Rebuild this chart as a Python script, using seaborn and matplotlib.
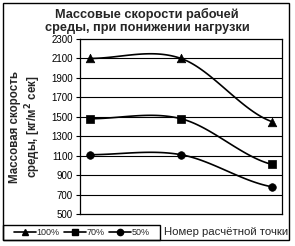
import numpy as np
import pandas as pd
import seaborn as sns
import matplotlib
matplotlib.use("Agg")
import matplotlib.pyplot as plt
from matplotlib.patches import Rectangle
from matplotlib.lines import Line2D

# ---- data ----
points = [1, 2, 3]
series_names = ["100%", "70%", "50%"]
load_100 = [2100, 2100, 1450]
load_70 = [1480, 1480, 1010]
load_50 = [1110, 1110, 780]
markers = ["^", "s", "o"]
yticks = list(range(500, 2301, 200))

title = "Массовые скорости рабочей\nсреды, при понижении нагрузки"
ylabel = "Массовая скорость\nсреды, [кг/м$^2$ сек]"
xlabel = "Номер расчётной точки"

sns.set_theme(style="white")
plt.rcParams["font.family"] = ["Liberation Sans", "DejaVu Sans"]
plt.rcParams["mathtext.default"] = "bf"

W, H = 295, 246
fig = plt.figure(figsize=(W / 100, H / 100), dpi=100)
fig.patch.set_facecolor("white")

def px(x0, y0, x1, y1):
    return [x0 / W, 1 - y1 / H, (x1 - x0) / W, (y1 - y0) / H]

ax = fig.add_axes(px(80, 39, 282, 214))


def smooth(xs, ys, n=40):
    # Catmull-Rom style smoothing between given data points (like Excel smoothed lines)
    xs = np.asarray(xs, float)
    ys = np.asarray(ys, float)
    ext_y = np.concatenate([[ys[0]], ys, [ys[-1]]])
    ox, oy = [], []
    for i in range(len(xs) - 1):
        p0, p1, p2, p3 = ext_y[i], ext_y[i + 1], ext_y[i + 2], ext_y[i + 3]
        m1 = (p2 - p0) / 2
        m2 = (p3 - p1) / 2
        t = np.linspace(0, 1, n, endpoint=(i == len(xs) - 2))
        h00 = 2 * t**3 - 3 * t**2 + 1
        h10 = t**3 - 2 * t**2 + t
        h01 = -2 * t**3 + 3 * t**2
        h11 = t**3 - t**2
        oy.append(h00 * p1 + h10 * m1 + h01 * p2 + h11 * m2)
        ox.append(xs[i] + t * (xs[i + 1] - xs[i]))
    return np.concatenate(ox), np.concatenate(oy)


all_series = [load_100, load_70, load_50]
handles = []
for name, vals, mk in zip(series_names, all_series, markers):
    sx, sy = smooth(points, vals)
    df = pd.DataFrame({"x": sx, "y": sy})
    sns.lineplot(data=df, x="x", y="y", ax=ax, color="black", lw=1.2, sort=False)
    dfp = pd.DataFrame({"x": points, "y": vals})
    sns.scatterplot(data=dfp, x="x", y="y", ax=ax, marker=mk, color="black",
                    s=38 if mk != "o" else 30, edgecolor="black", linewidth=0.5, zorder=5)
    handles.append(Line2D([], [], color="black", lw=1.2, marker=mk, markersize=4.5))

ax.set_xlim(0.89, 3.11)
ax.set_ylim(500, 2300)
ax.set_yticks(yticks)
ax.set_yticklabels([str(v) for v in yticks], fontsize=7, color="black")
ax.set_xticks([])
ax.set_xlabel("")
ax.set_ylabel("")
ax.grid(False)
for v in yticks[1:-1]:
    ax.axhline(v, color="black", lw=0.8, zorder=0)
for s in ax.spines.values():
    s.set_color("black")
    s.set_linewidth(0.9)
ax.tick_params(axis="y", left=True, length=3, width=0.8, color="black", pad=2, direction="out")

fig.text(147 / W, 1 - 21 / H, title, ha="center", va="center", fontsize=9.2,
         fontweight="bold", linespacing=1.05)
fig.text(26 / W, 1 - 127 / H, ylabel, ha="center", va="center", rotation=90,
         fontsize=8.3, fontweight="bold", linespacing=1.15)
fig.text(226 / W, 1 - 232 / H, xlabel, ha="center", va="center", fontsize=8.2)

# outer border and legend box
fig.add_artist(Rectangle((3 / W, 1 - 240 / H), (289 - 3) / W, (240 - 3) / H,
                         transform=fig.transFigure, fill=False, ec="black", lw=1))
fig.add_artist(Rectangle((3 / W, 1 - 240 / H), (160 - 3) / W, (240 - 225) / H,
                         transform=fig.transFigure, fill=False, ec="black", lw=1))

leg = fig.legend(handles, series_names, loc="center", bbox_to_anchor=(82 / W, 1 - 232.5 / H),
                 ncol=3, frameon=False, fontsize=6.5, handlelength=2.4, handletextpad=0.1,
                 columnspacing=0.5, borderpad=0)

fig.savefig("out.png", dpi=100)
